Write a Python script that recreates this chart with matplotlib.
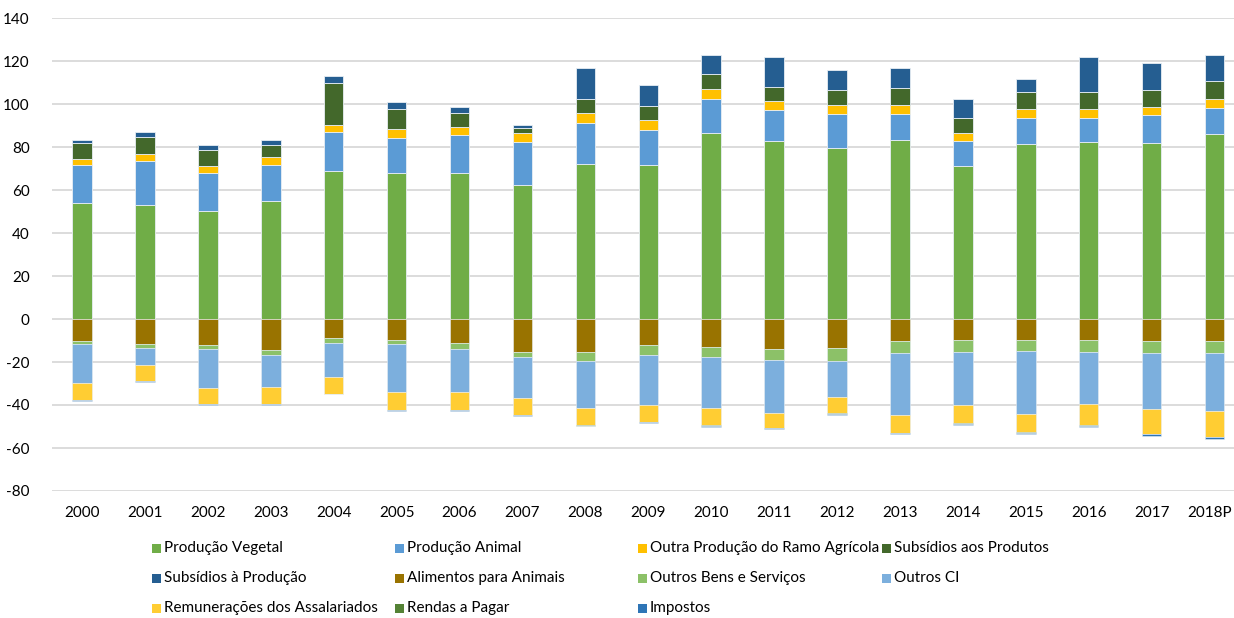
import matplotlib
matplotlib.use("Agg")
import matplotlib.pyplot as plt
import matplotlib.transforms as mtransforms
from matplotlib.patches import Rectangle
import numpy as np

plt.rcParams['font.family'] = ['Lato', 'DejaVu Sans']
plt.rcParams['axes.unicode_minus'] = False

years = ["2000", "2001", "2002", "2003", "2004", "2005", "2006", "2007", "2008", "2009",
         "2010", "2011", "2012", "2013", "2014", "2015", "2016", "2017", "2018P"]

# Positive components
producao_vegetal = [54.0, 53.2, 50.4, 54.7, 69.0, 67.8, 67.9, 62.2, 72.1, 71.8,
                    86.4, 82.6, 79.7, 83.4, 71.3, 81.2, 82.2, 81.7, 86.2]
producao_animal = [17.8, 20.4, 17.5, 17.1, 18.0, 16.2, 17.5, 20.3, 19.2, 16.0,
                   15.8, 14.5, 15.8, 12.1, 11.6, 12.4, 11.4, 13.0, 12.1]
outra_producao = [2.8, 3.0, 3.1, 3.5, 3.2, 4.2, 4.1, 4.2, 4.7, 4.6,
                  4.6, 4.3, 4.2, 3.9, 3.6, 4.1, 4.2, 4.1, 4.2]
subsidios_produtos = [7.3, 8.1, 7.4, 5.5, 19.4, 9.3, 6.2, 2.1, 6.5, 6.5,
                      7.0, 6.4, 6.7, 7.9, 6.8, 7.7, 7.8, 7.6, 8.2]
subsidios_producao = [1.2, 2.1, 2.5, 2.3, 3.6, 3.3, 2.9, 1.3, 14.1, 10.1,
                      9.1, 14.1, 9.3, 9.6, 8.9, 6.1, 16.4, 12.5, 11.9]

# Negative components
alimentos_animais = [-10.2, -11.8, -12.1, -14.6, -9.0, -9.8, -11.2, -15.3, -15.3, -12.1,
                     -13.0, -14.0, -13.6, -10.2, -9.9, -9.8, -9.8, -10.2, -10.2]
outros_bens_servicos = [-1.6, -1.8, -2.0, -2.0, -2.2, -2.0, -2.9, -2.5, -4.2, -4.5,
                        -4.7, -5.1, -5.9, -5.6, -5.4, -5.1, -5.5, -5.6, -5.6]
outros_ci = [-18.1, -7.8, -18.0, -15.0, -15.8, -22.2, -19.9, -18.8, -21.9, -23.2,
             -23.7, -24.6, -16.8, -28.7, -24.7, -29.3, -24.2, -26.1, -27.0]
remuneracoes = [-7.8, -7.4, -7.4, -7.8, -7.7, -8.2, -8.3, -8.1, -8.1, -8.1,
                -7.9, -6.8, -7.6, -8.4, -8.5, -8.5, -9.8, -11.6, -12.1]
rendas_pagar = [-0.2, -0.2, -0.2, -0.1, -0.2, -0.2, -0.1, -0.1, -0.1, -0.2,
                -0.5, -0.2, -0.3, -0.2, -0.2, -0.2, -0.3, -0.2, -0.2]
impostos = [-0.1, -0.1, -0.1, -0.3, -0.1, -0.2, -0.2, -0.2, -0.2, -0.3,
            -0.3, -0.3, -0.3, -0.5, -0.4, -0.4, -0.8, -0.6, -0.6]

labels = ["Produção Vegetal", "Produção Animal", "Outra Produção do Ramo Agrícola",
          "Subsídios aos Produtos", "Subsídios à Produção", "Alimentos para Animais",
          "Outros Bens e Serviços", "Outros CI", "Remunerações dos Assalariados",
          "Rendas a Pagar", "Impostos"]
colors = ["#70AD47", "#5B9BD5", "#FFC000", "#43682B", "#255E91", "#997300",
          "#8CC168", "#7CAFDD", "#FFCD33", "#548235", "#2E75B6"]

pos_series = [producao_vegetal, producao_animal, outra_producao, subsidios_produtos, subsidios_producao]
neg_series = [alimentos_animais, outros_bens_servicos, outros_ci, remuneracoes, rendas_pagar, impostos]

W, H = 1234, 618
fig = plt.figure(figsize=(W / 100, H / 100), dpi=100)
ax = fig.add_axes([52 / W, 1 - 491 / H, (1234 - 52) / W, (491 - 18) / H])

x = np.arange(len(years))
bw = 0.31
bottom = np.zeros(len(years))
for i, s in enumerate(pos_series):
    v = np.array(s)
    ax.bar(x, v, bw, bottom=bottom, color=colors[i], edgecolor='#e8eef4', linewidth=0.6, zorder=3)
    bottom += v
bottom = np.zeros(len(years))
for j, s in enumerate(neg_series):
    v = np.array(s)
    ax.bar(x, v, bw, bottom=bottom, color=colors[5 + j], edgecolor='#e8eef4', linewidth=0.4, zorder=3)
    bottom += v

ax.set_ylim(-80, 140)
ax.set_yticks(np.arange(-80, 141, 20))
ax.set_xlim(-0.477, 18.31)
ax.set_xticks(x)
ax.set_xticklabels(years)
ax.grid(axis='y', color='#d9d9d9', linewidth=1.3, zorder=0)
ax.set_axisbelow(True)
for sp in ax.spines.values():
    sp.set_visible(False)
ax.tick_params(axis='both', length=0, labelsize=11, colors='#000000')
ax.tick_params(axis='y', pad=16)
ax.tick_params(axis='x', pad=11)

# nudge the last (wide) label left so it stays inside the figure, as in the reference
last = ax.get_xticklabels()[-1]
last.set_transform(last.get_transform() + mtransforms.ScaledTranslation(-5 / 100, 0, fig.dpi_scale_trans))

# Manual legend, 4 columns x 3 rows, row-major order
col_x = [152, 395, 638, 882]
row_y = [548, 578, 608]
for k, (lab, c) in enumerate(zip(labels, colors)):
    r, cc = divmod(k, 4)
    px, py = col_x[cc], row_y[r]
    fig.patches.append(Rectangle((px / W, 1 - (py + 4.5) / H), 9 / W, 9 / H,
                                 transform=fig.transFigure, facecolor=c, edgecolor='none'))
    fig.text((px + 12) / W, 1 - py / H, lab, fontsize=11, va='center', ha='left', color='#000000')

fig.savefig("out.png", dpi=100)
